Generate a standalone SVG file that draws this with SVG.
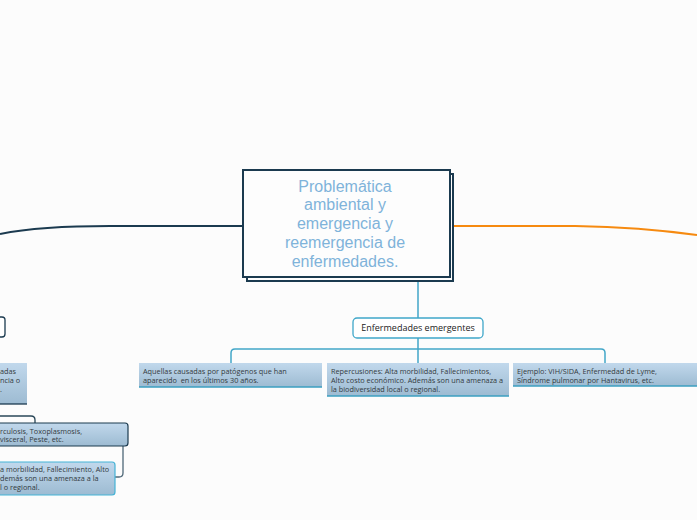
<svg xmlns="http://www.w3.org/2000/svg" width="697" height="520" viewBox="0 0 697 520">
<defs>
<linearGradient id="gBox" x1="0" y1="0" x2="0" y2="1">
<stop offset="0" stop-color="#c1d8ec"/>
<stop offset="1" stop-color="#9dbbd2"/>
</linearGradient>
<style>
.t{font-family:"Open Sans","Liberation Sans",sans-serif;fill:#333a40;font-size:7.3px}
.title{font-family:"Liberation Sans","Open Sans",sans-serif;fill:#7fb3da;font-size:16px;text-anchor:middle}
.lbl{font-family:"Open Sans","Liberation Sans",sans-serif;fill:#222;font-size:9px;text-anchor:middle}
.box{fill:url(#gBox)}
.ul{stroke:#3b9fc1;stroke-width:1.3;fill:none}
.tl{stroke:#42a6c8;stroke-width:1.5;fill:none}
.dk{stroke:#1b3a4f;fill:none}
</style>
</defs>
<rect width="697" height="520" fill="#fcfcfc"/>
<g id="connectors">
<path class="dk" stroke-width="2" d="M243,226 H110 C60,226 25,229 0,234"/>
<path d="M453,226 H575 C630,227 668,231 697,235" stroke="#f68a10" stroke-width="2" fill="none"/>
<path class="tl" d="M418,281 V318"/>
<path class="tl" d="M418,338 V363"/>
<path class="tl" d="M231,363 V353 Q231,349 235,349 H601 Q605,349 605,353 V363"/>
<path d="M0,416 H31 Q35,416 35,420 V423" stroke="#2a4758" stroke-width="1.3" fill="none"/>
<path d="M123,446 V473 Q123,477 119,477 H115" stroke="#4f6878" stroke-width="1.3" fill="none"/>
</g>
<g id="central">
<rect x="247" y="174" width="206" height="107" fill="#fdfdfd" stroke="#1b3a4f" stroke-width="2"/>
<rect x="243" y="170" width="207" height="107" fill="#fdfdfd" stroke="#1b3a4f" stroke-width="2"/>
<text class="title" x="345" y="191.5">Problemática</text>
<text class="title" x="345" y="210.3">ambiental y</text>
<text class="title" x="345" y="229.1">emergencia y</text>
<text class="title" x="345" y="247.9">reemergencia de</text>
<text class="title" x="345" y="266.7">enfermedades.</text>
</g>
<g id="emergentes">
<rect x="353" y="318" width="130" height="20" rx="4" fill="#fff" stroke="#3fa7c9" stroke-width="1.3"/>
<text class="lbl" x="418" y="331">Enfermedades emergentes</text>
</g>
<g id="definicion">
<rect class="box" x="139" y="363" width="183" height="24"/>
<path class="ul" d="M139,387 H322"/>
<text class="t" x="143" y="373.5" xml:space="preserve">Aquellas causadas por patógenos que han</text>
<text class="t" x="143" y="382.5" xml:space="preserve">aparecido  en los últimos 30 años.</text>
</g>
<g id="repercusiones">
<rect class="box" x="327" y="363" width="182" height="33"/>
<path class="ul" d="M327,396 H509"/>
<text class="t" x="331" y="373.5">Repercusiones: Alta morbilidad, Fallecimientos,</text>
<text class="t" x="331" y="382.5">Alto costo económico. Además son una amenaza a</text>
<text class="t" x="331" y="391.5">la biodiversidad local o regional.</text>
</g>
<g id="ejemplo">
<rect class="box" x="513" y="363" width="184" height="23"/>
<path class="ul" d="M513,386 H697"/>
<text class="t" x="517" y="373.5">Ejemplo: VIH/SIDA, Enfermedad de Lyme,</text>
<text class="t" x="517" y="382.5">Síndrome pulmonar por Hantavirus, etc.</text>
</g>
<g id="reemergentes">
<rect x="-10" y="317" width="15" height="20" rx="3" fill="#fff" stroke="#1b3a4f" stroke-width="1.3"/>
</g>
<g id="reemergentes-definicion">
<rect class="box" x="-5" y="363" width="32" height="41"/>
<path d="M0,404 H27" stroke="#1b3a4f" stroke-width="1.3"/>
<text class="t" x="0" y="373.5">adas</text>
<text class="t" x="0" y="382.5">ncia o</text>
<text class="t" x="0" y="391.5">.</text>
</g>
<g id="reemergentes-ejemplo">
<rect class="box" x="-5" y="423" width="133" height="23" rx="3" stroke="#1b3a4f" stroke-width="1.2"/>
<text class="t" x="0" y="433.5">rculosis, Toxoplasmosis,</text>
<text class="t" x="0" y="442">visceral, Peste, etc.</text>
</g>
<g id="reemergentes-repercusiones">
<rect class="box" x="-5" y="462" width="120" height="33" rx="3" stroke="#45b3d6" stroke-width="1.2"/>
<text class="t" x="0" y="471.5">a morbilidad, Fallecimiento, Alto</text>
<text class="t" x="0" y="480.5">demás son una amenaza a la</text>
<text class="t" x="0" y="489.5">l o regional.</text>
</g>
</svg>
